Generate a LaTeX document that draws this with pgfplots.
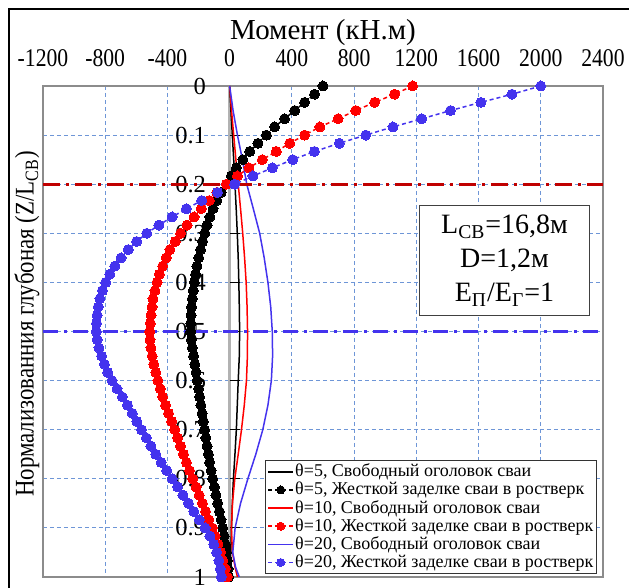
\documentclass[border=0pt]{standalone}
\usepackage{fontspec}
\setmainfont{Liberation Serif}
\newfontfamily\condensed{Liberation Serif}[FakeStretch=0.85]
\usepackage{pgfplots}
\pgfplotsset{compat=1.18}
\usepackage{pgfplotstable}

\definecolor{gridblue}{RGB}{110,150,215}
\definecolor{myblue}{RGB}{68,51,238}
\definecolor{darkred}{RGB}{192,0,0}
\definecolor{boxgray}{RGB}{140,140,140}

\pgfplotstableread{
z b r u
0 600 1176 2000
0.0167 546 1060 1815
0.0333 482 932 1615
0.05 418 810 1420
0.0667 353 697 1235
0.0833 289 580 1050
0.1 236 482 875
0.1167 182 386 705
0.1333 129 300 545
0.15 85 210 405
0.1667 43 124 275
0.1833 11 50 150
0.2 -21 -21 32
0.2167 -55 -82 -78
0.2333 -83 -131 -180
0.25 -107 -183 -278
0.2667 -127 -229 -370
0.2833 -145 -274 -455
0.3 -160 -315 -533
0.3167 -174 -349 -598
0.3333 -187 -384 -652
0.35 -199 -408 -698
0.3667 -210 -430 -738
0.3833 -219 -452 -770
0.4 -227 -467 -797
0.4167 -234 -480 -818
0.4333 -240 -493 -834
0.45 -245 -499 -845
0.4667 -248 -505 -852
0.4833 -250 -510 -856
0.5 -250 -514 -857
0.5167 -246 -512 -852
0.5333 -240 -506 -840
0.55 -232 -498 -823
0.5667 -224 -488 -805
0.5833 -216 -475 -784
0.6 -208 -461 -756
0.6167 -200 -446 -724
0.6333 -193 -430 -690
0.65 -185 -412 -657
0.6667 -177 -393 -626
0.6833 -169 -373 -597
0.7 -161 -353 -567
0.7167 -153 -335 -536
0.7333 -145 -316 -506
0.75 -137 -297 -475
0.7667 -129 -278 -440
0.7833 -119 -258 -405
0.8 -109 -237 -370
0.8167 -98 -216 -334
0.8333 -88 -196 -300
0.85 -77 -175 -265
0.8667 -66 -155 -230
0.8833 -55 -134 -195
0.9 -45 -112 -158
0.9167 -36 -93 -127
0.9333 -28 -75 -102
0.95 -20 -58 -84
0.9667 -14 -44 -69
0.9833 -10 -28 -60
1 -6 -15 -54
}\fixedtab

\pgfplotstableread{
z b r u
0 0 0 0
0.05 8 12 22
0.1 17 26 50
0.15 26 40 82
0.2 34 55 110
0.25 42 70 152
0.3 49 84 193
0.35 55 96 222
0.4 59 106 246
0.45 62 112 264
0.5 64 115 274
0.55 62 114 276
0.6 55 108 268
0.65 49 94 246
0.7 43 76 213
0.75 34 55 168
0.8 24 33 117
0.85 17 18 70
0.9 12 11 35
0.95 7 18 20
0.98 5 35 38
1 3 50 62
}\freetab

\begin{document}
\begin{tikzpicture}
\path (0pt,0pt) rectangle (314.5pt,-294pt);
\draw[line width=0.75pt] (4.5pt,-294pt) -- (4.5pt,-4.5pt) -- (314.5pt,-4.5pt);
\begin{axis}[
  at={(21.5pt,-43pt)}, anchor=north west,
  scale only axis, width=280pt, height=245.5pt,
  set layers, clip=false,
  xmin=-1200, xmax=2400,
  xtick={-1200,-800,-400,0,400,800,1200,1600,2000,2400},
  ymin=0, ymax=1, y dir=reverse,
  ytick={0,0.1,0.2,0.3,0.4,0.5,0.6,0.7,0.8,0.9,1},
  yticklabels={0,0.1,0.2,0.3,0.4,0.5,0.6,0.7,0.8,0.9,1},
  xticklabel pos=right,
  grid=major,
  major grid style={gridblue, dash pattern=on 2pt off 1.5pt, line width=0.5pt},
  major tick length=0pt,
  axis line style={boxgray, line width=1pt},
  /pgf/number format/assume math mode=true,
  /pgf/number format/1000 sep={},
  xticklabel style={font=\condensed\fontsize{12.75}{14}\selectfont, yshift=6.25pt},
  yticklabel style={font=\fontsize{12.25}{14}\selectfont, xshift=85pt},
  xlabel={Момент (кН.м)},
  xlabel style={at={(axis description cs:0.5,1)}, anchor=base, yshift=23pt, font=\fontsize{14.5}{16}\selectfont},
  ylabel={Нормализованния глубоная (Z/L\textsubscript{СВ})},
  ylabel style={at={(axis description cs:-0.0286,0.515)}, anchor=center, font=\condensed\fontsize{13.45}{16}\selectfont},
  legend cell align=left,
  legend image code/.code={\draw[mark repeat=2,mark phase=2,#1,mark size=2pt] plot coordinates {(0cm,0cm) (0.22cm,0cm) (0.44cm,0cm)};},
  legend style={font=\fontsize{9}{9}\selectfont, at={(1,0)}, anchor=south east, xshift=-3pt, yshift=1.5pt,
    draw=black!80, line width=0.5pt, fill=white, inner sep=1pt, row sep=0pt,
    nodes={inner sep=0.6pt, anchor=west}},
]
\draw[gray!60, line width=1.2pt] (axis cs:0,0) -- (axis cs:0,1);
\pgfplotsinvokeforeach{0.1,0.2,0.3,0.4,0.5,0.6,0.7,0.8,0.9}{\draw[black, line width=0.5pt] (axis cs:0,#1) -- (axis cs:64,#1);}

\addplot[black, line width=0.75pt, no markers] table[x=b, y=z] {\freetab};
\addlegendentry{θ=5, Свободный оголовок сваи}
\addplot[black, line width=0.75pt, dash pattern=on 2pt off 1.5pt, mark=*, mark size=2.5pt, mark options={solid, fill=black, line width=0pt}] table[x=b, y=z] {\fixedtab};
\addlegendentry{θ=5, Жесткой заделке сваи в ростверк}
\addplot[red, line width=0.75pt, no markers] table[x=r, y=z] {\freetab};
\addlegendentry{θ=10, Свободный оголовок сваи}
\addplot[red, line width=0.75pt, dash pattern=on 2pt off 1.5pt, mark=*, mark size=2.5pt, mark options={solid, fill=red, line width=0pt}] table[x=r, y=z] {\fixedtab};
\addlegendentry{θ=10, Жесткой заделке сваи в ростверк}
\addplot[myblue, line width=0.75pt, no markers] table[x=u, y=z] {\freetab};
\addlegendentry{θ=20, Свободный оголовок сваи}
\addplot[myblue, line width=0.75pt, dash pattern=on 2pt off 1.5pt, mark=*, mark size=2.5pt, mark options={solid, fill=myblue, line width=0pt}] table[x=u, y=z] {\fixedtab};
\addlegendentry{θ=20, Жесткой заделке сваи в ростверк}

\draw[darkred, line width=1.5pt, dash pattern=on 8.5pt off 3pt on 1.5pt off 3pt] (axis cs:-1200,0.2) -- (axis cs:2400,0.2);
\draw[myblue, line width=1.5pt, dash pattern=on 7.5pt off 3pt on 1.5pt off 3pt] (axis cs:-1200,0.5) -- (axis cs:2400,0.5);
\node[draw=black!75, fill=white, line width=0.5pt, align=center, inner sep=2.5pt, text width=80pt,
  font=\fontsize{14}{17}\selectfont, minimum height=55pt]
  at (axis cs:1767,0.356) {L\textsubscript{СВ}=16,8м\\D=1,2м\\E\textsubscript{П}/E\textsubscript{Г}=1};
\end{axis}
\pgfresetboundingbox
\path (0pt,0pt) rectangle (314.5pt,-294pt);
\end{tikzpicture}
\end{document}
